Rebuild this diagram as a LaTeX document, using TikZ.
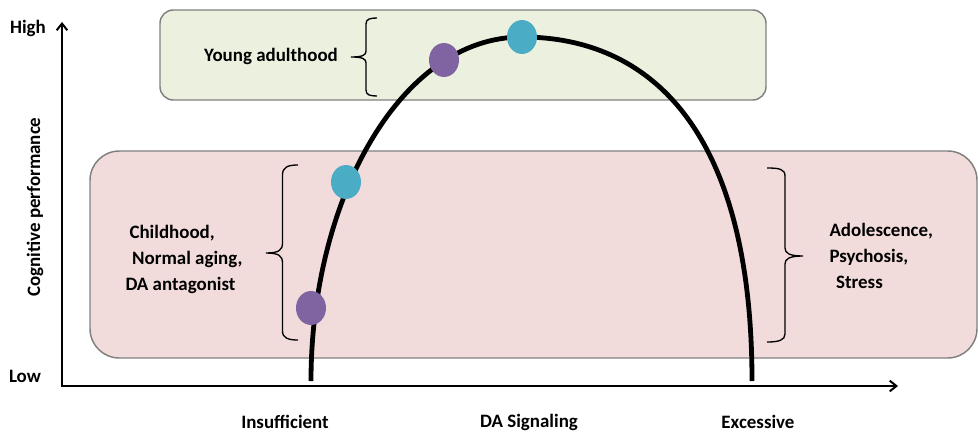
\documentclass[tikz,border=0pt]{standalone}
\usepackage{fontspec}
\setmainfont{Carlito}
\usetikzlibrary{arrows.meta}

\tikzset{every picture/.style={line width=0.75pt}}
\tikzset{
	txt/.style={font=\fontsize{14.2}{19.5}\selectfont\bfseries, inner sep=0pt},
	band/.style={draw={rgb, 255:red, 128; green, 128; blue, 128 }, line width=1.1pt},
	axis/.style={line width=1.5pt, {Straight Barb[length=5pt,width=8pt]}-{Straight Barb[length=5pt,width=8pt]}},
	brace/.style={line width=1pt},
	purpledot/.style={fill={rgb, 255:red, 128; green, 100; blue, 162 }},
	tealdot/.style={fill={rgb, 255:red, 75; green, 172; blue, 198 }}
}

\begin{document}
\begin{tikzpicture}[x=0.75pt,y=0.75pt,yscale=-1,xscale=1]
	\useasboundingbox (0,0) rectangle (978,432);

	%Rounded Rect (upper band)
	\draw [band, fill={rgb, 255:red, 235; green, 241; blue, 222 }, rounded corners=10pt] (160,10) rectangle (766,100);
	%Rounded Rect (lower band)
	\draw [band, fill={rgb, 255:red, 242; green, 220; blue, 219 }, rounded corners=22pt] (90,151) rectangle (977,358);

	%Shape: Axis 2D
	\draw [axis] (62,22) -- (62,386) -- (898,386);

	%Curve Lines (inverted U)
	\draw [line width=3.6pt] (311,381) .. controls (311,200) and (400,37) .. (522,37) .. controls (650,37) and (752,130) .. (752,381);

	%Shape: Ellipses on the curve
	\fill [purpledot] (311,308) ellipse (15 and 17);
	\fill [tealdot] (346,182) ellipse (15 and 17);
	\fill [purpledot] (444,60) ellipse (15 and 17);
	\fill [tealdot] (522,37) ellipse (15 and 17);

	%Shape: Brace (young adulthood)
	\draw [brace] (377,18) .. controls (370,18) and (366,19) .. (366,24) -- (366,51) .. controls (366,55) and (363,57) .. (351,57) .. controls (363,57) and (366,59) .. (366,63) -- (366,90) .. controls (366,95) and (370,96) .. (377,96) ;
	%Shape: Brace (left)
	\draw [brace] (298,165) .. controls (288,165) and (282.5,167) .. (282.5,175) -- (282.5,243) .. controls (282.5,250) and (279,253) .. (266,253) .. controls (279,253) and (282.5,256) .. (282.5,263) -- (282.5,331) .. controls (282.5,338) and (288,340) .. (298,340) ;
	%Shape: Brace (right)
	\draw [brace] (767,168) .. controls (779,168) and (785,169) .. (785,176) -- (785,248) .. controls (785,253) and (789,256) .. (803,256) .. controls (789,256) and (785,259) .. (785,264) -- (785,334) .. controls (785,340) and (779,342) .. (767,342) ;

	% Text Node
	\draw (28,28) node [txt] (high) {High};
	% Text Node
	\draw (25,376) node [txt] (low) {Low};
	% Text Node
	\draw (35,207) node [txt, rotate=90] (perf) {Cognitive performance};
	% Text Node
	\draw (271,56) node [txt] (young) {Young adulthood};
	% Text Node
	\draw (125,259) node [txt, anchor=west, align=left] (child) {\hspace{3pt}Childhood,\\\hspace{5pt}Normal aging,\\DA antagonist};
	% Text Node
	\draw (829,256) node [txt, anchor=west, align=left] (adol) {Adolescence,\\Psychosis,\\\hspace{5pt}Stress};
	% Text Node
	\draw (285,422) node [txt] (insuff) {Insufficient};
	% Text Node
	\draw (529,422) node [txt] (signal) {DA Signaling};
	% Text Node
	\draw (758,422) node [txt] (excess) {Excessive};

\end{tikzpicture}
\end{document}
